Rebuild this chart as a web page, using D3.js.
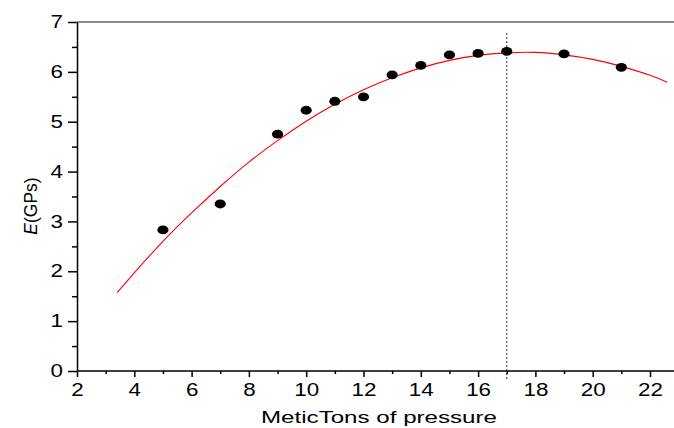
<!DOCTYPE html>
<html>
<head>
<meta charset="utf-8">
<script src="https://cdn.jsdelivr.net/npm/d3@7"></script>
<style>
  body { margin: 0; background: #fff; }
  svg { display: block; font-family: "Liberation Sans", Arial, sans-serif; }
</style>
</head>
<body>
<div id="chart"></div>
<script>
// measured points
const pressure = [5, 7, 9, 10, 11, 12, 13, 14, 15, 16, 17, 19, 21];
const modulus = [2.83, 3.35, 4.75, 5.23, 5.41, 5.50, 5.94, 6.13, 6.34, 6.37, 6.41, 6.36, 6.09];

// fitted curve
const fitX = [3.4, 4, 5, 6, 7, 8, 9, 10, 11, 12, 13, 14, 15, 16, 17, 18, 19, 20, 21, 22, 22.6];
const fitY = [1.57, 1.97, 2.60, 3.17, 3.70, 4.19, 4.62, 5.01, 5.35, 5.64, 5.88, 6.08, 6.23, 6.33, 6.38, 6.39, 6.34, 6.25, 6.11, 5.93, 5.79];

const peakX = 17;
const xTicks = [2, 4, 6, 8, 10, 12, 14, 16, 18, 20, 22];
const yTicks = [0, 1, 2, 3, 4, 5, 6, 7];

const width = 674;
const height = 428;
const marginLeft = 77, plotTop = 22, plotBottom = 371;
const stretch = 1.28; // glyphs in the picture are wider than tall

const svg = d3.select("#chart").append("svg")
  .attr("width", width)
  .attr("height", height);

const x = d3.scaleLinear().domain([2, 22]).range([marginLeft, 650]);
const y = d3.scaleLinear().domain([0, 7]).range([plotBottom, plotTop]);
const xEnd = width;

// top frame line
svg.append("line")
  .attr("x1", marginLeft).attr("x2", xEnd)
  .attr("y1", y(7)).attr("y2", y(7))
  .attr("stroke", "#666").attr("stroke-width", 1.3);

// minor ticks
const xMinor = d3.range(3, 23, 2);
const yMinor = d3.range(0.5, 7, 1);

svg.append("g")
  .attr("transform", `translate(0,${plotBottom})`)
  .call(d3.axisBottom(x).tickValues(xMinor).tickSize(3).tickFormat(""))
  .call(g => g.select(".domain").remove())
  .selectAll("line").attr("stroke-width", 1.5);

svg.append("g")
  .attr("transform", `translate(${marginLeft},0)`)
  .call(d3.axisLeft(y).tickValues(yMinor).tickSize(5).tickFormat(""))
  .call(g => g.select(".domain").remove())
  .selectAll("line").attr("stroke-width", 1.5);

// major axes
const xAxis = svg.append("g")
  .attr("transform", `translate(0,${plotBottom})`)
  .call(d3.axisBottom(x).tickValues(xTicks).tickFormat(d3.format("d"))
    .tickSize(6).tickSizeOuter(0).tickPadding(7));
xAxis.select(".domain").attr("d", `M${marginLeft},0H${xEnd}`).attr("stroke-width", 1.5);
xAxis.selectAll(".tick line").attr("stroke-width", 1.5);
xAxis.selectAll("text")
  .attr("font-size", 17.5)
  .attr("fill", "#000")
  .attr("transform", `scale(${stretch},1)`);

const yAxis = svg.append("g")
  .attr("transform", `translate(${marginLeft},0)`)
  .call(d3.axisLeft(y).tickValues(yTicks).tickFormat(d3.format("d"))
    .tickSize(9).tickSizeOuter(0).tickPadding(5));
yAxis.select(".domain").attr("stroke-width", 1.5);
yAxis.selectAll(".tick line").attr("stroke-width", 1.5);
yAxis.selectAll("text")
  .attr("font-size", 17.5)
  .attr("fill", "#000")
  .attr("x", -14 / stretch)
  .attr("transform", `scale(${stretch},1)`);

// dotted marker at the peak
svg.append("line")
  .attr("x1", x(peakX)).attr("x2", x(peakX))
  .attr("y1", y(6.77)).attr("y2", plotBottom + 9)
  .attr("stroke", "#000")
  .attr("stroke-width", 1.3)
  .attr("stroke-dasharray", "1.4,2.6");

// fit curve
const line = d3.line()
  .x(d => x(d[0]))
  .y(d => y(d[1]))
  .curve(d3.curveNatural);

svg.append("path")
  .datum(d3.zip(fitX, fitY))
  .attr("fill", "none")
  .attr("stroke", "#ff0000")
  .attr("stroke-width", 1.1)
  .attr("d", line);

// data points
svg.selectAll(".pt")
  .data(d3.zip(pressure, modulus))
  .enter()
  .append("ellipse")
  .attr("class", "pt")
  .attr("cx", d => x(d[0]))
  .attr("cy", d => y(d[1]))
  .attr("rx", 5.6)
  .attr("ry", 4.4)
  .attr("fill", "#000");

// axis titles
svg.append("text")
  .attr("x", 379)
  .attr("y", 423)
  .attr("text-anchor", "middle")
  .attr("font-size", 17)
  .attr("textLength", 236)
  .attr("lengthAdjust", "spacingAndGlyphs")
  .text("MeticTons of pressure");

const yTitle = svg.append("text")
  .attr("transform", "translate(37,206) rotate(-90)")
  .attr("text-anchor", "middle")
  .attr("font-size", 17.5);
yTitle.append("tspan").attr("font-style", "italic").text("E");
yTitle.append("tspan").text("(GPs)");
</script>
</body>
</html>
